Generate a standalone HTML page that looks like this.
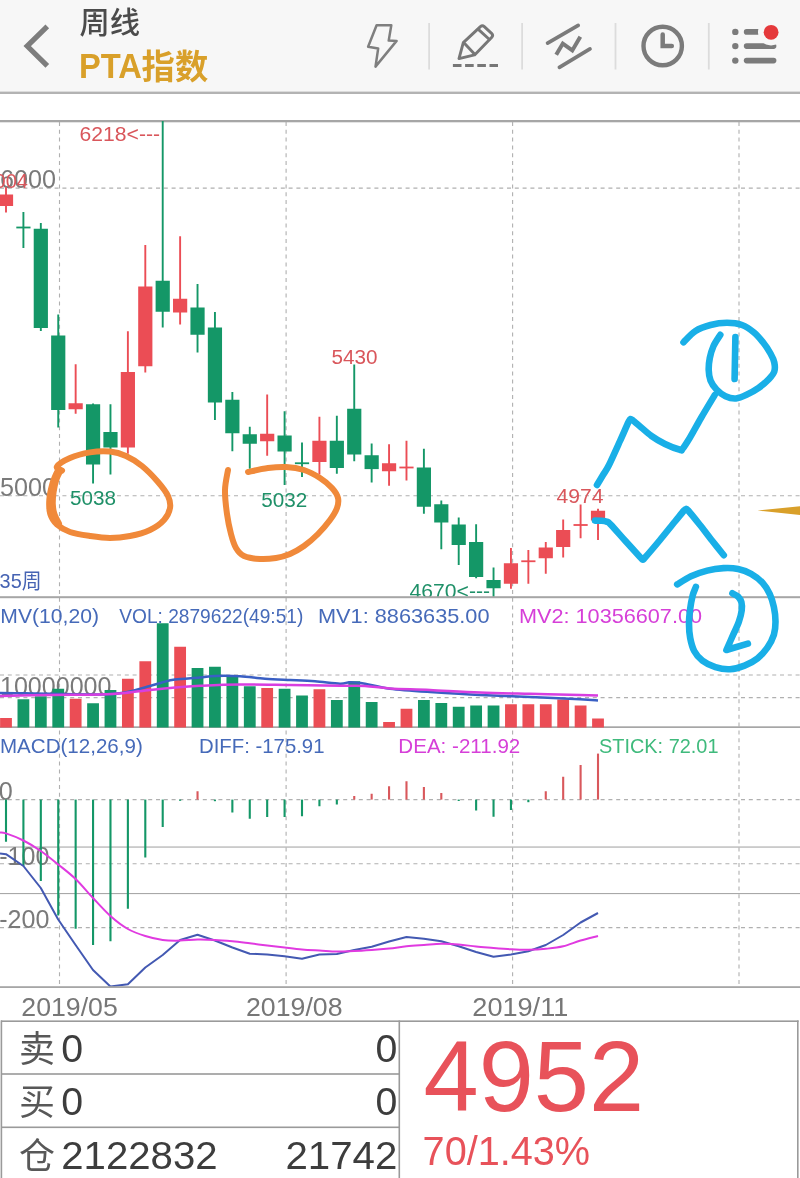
<!DOCTYPE html>
<html lang="zh-CN">
<head>
<meta charset="utf-8">
<title>PTA指数 周线</title>
<style>
html,body{margin:0;padding:0;background:#fff;}
body{width:800px;height:1178px;overflow:hidden;font-family:"Liberation Sans","Noto Sans CJK SC",sans-serif;}
svg text{white-space:pre;}
</style>
</head>
<body>
<svg width="800" height="1178" viewBox="0 0 800 1178" font-family='"Liberation Sans", "Noto Sans CJK SC", sans-serif' style="display:block;filter:blur(0.4px)">
<rect x="0" y="0" width="800" height="92" fill="#f7f7f7"/>
<rect x="0" y="91.6" width="800" height="2.4" fill="#b3b3b3"/>
<path d="M47.3 26.4L27.2 46.1L47.3 65.8" fill="none" stroke="#7d7d7d" stroke-width="5.2"/>
<text x="79.6" y="32.7" font-size="29.8" fill="#4b4b4b" textLength="60.5" lengthAdjust="spacingAndGlyphs" font-weight="500">周线</text>
<text y="78.2" font-size="34.5" font-weight="bold" fill="#d9a02a"><tspan x="79" textLength="63" lengthAdjust="spacingAndGlyphs">PTA</tspan><tspan x="141.6" y="79.2" font-size="33.6" textLength="66.6" lengthAdjust="spacingAndGlyphs">指数</tspan></text>
<path d="M376.6 25.3L391.3 25.3L388.7 40.6L396.6 40.9L375.5 66.6L378.2 48.4L368.1 46.7Z" fill="none" stroke="#7f7f7f" stroke-width="2.5" stroke-linejoin="round"/>
<rect x="428.2" y="23" width="1.8" height="46.5" fill="#dcdcdc"/>
<rect x="521.2" y="23" width="1.8" height="46.5" fill="#dcdcdc"/>
<rect x="614.6" y="23" width="1.8" height="46.5" fill="#dcdcdc"/>
<rect x="707.9" y="23" width="1.8" height="46.5" fill="#dcdcdc"/>
<g fill="none" stroke="#777" stroke-width="2.9" stroke-linejoin="round" stroke-linecap="round"><path d="M459 58.6L463.3 42.6L480.4 26.6Q482.4 25 484.3 26.7L491.8 33.6Q493.5 35.4 491.8 37.2L474.6 54.9Z"/><path d="M464.6 43.5L474 53.6M478.6 29.6L489.2 39.2"/></g>
<path d="M452.9 65.5H498" stroke="#777" stroke-width="3" stroke-dasharray="8.6 3.6" fill="none"/>
<g fill="none" stroke="#7b7b7b" stroke-width="3.7"><path d="M547.6 43.1L578.2 25.4M559.4 67.3L590 48.9" stroke-linecap="round"/><path d="M556.2 54.8L562.8 43.6L572.3 50.4L580.3 36.8" stroke-width="4"/></g>
<circle cx="662.7" cy="46" r="19.2" fill="none" stroke="#7b7b7b" stroke-width="4.4"/>
<path d="M662.7 34.6V46.1H671.8" fill="none" stroke="#7b7b7b" stroke-width="4.5" stroke-linecap="round"/>
<circle cx="735.3" cy="31.9" r="3.2" fill="#7b7b7b"/>
<path d="M746.6 31.9H773.6" stroke="#7b7b7b" stroke-width="5.6" stroke-linecap="round"/>
<circle cx="735.3" cy="46.1" r="3.2" fill="#7b7b7b"/>
<path d="M746.6 46.1H773.6" stroke="#7b7b7b" stroke-width="5.6" stroke-linecap="round"/>
<circle cx="735.3" cy="60.6" r="3.2" fill="#7b7b7b"/>
<path d="M746.6 60.6H773.6" stroke="#7b7b7b" stroke-width="5.6" stroke-linecap="round"/>
<circle cx="771.1" cy="32.3" r="13.1" fill="#f7f7f7"/>
<circle cx="771.1" cy="32.3" r="7.4" fill="#e5393b"/>
<rect x="0" y="120" width="800" height="2.3" fill="#a6a6a6"/>
<g stroke="#b0b0b0" stroke-width="1.1" stroke-dasharray="4 3.8" fill="none">
<path d="M59.5 122V986"/>
<path d="M286.1 122V986"/>
<path d="M512.6 122V986"/>
<path d="M739.0 122V986"/>
<path d="M0 188.1H800"/>
<path d="M0 495.7H800"/>
<path d="M0 675.0H800"/>
<path d="M0 697.6H800"/>
<path d="M0 799.6H800"/>
<path d="M0 863.8H800"/>
<path d="M0 927.6H800"/>
</g>
<rect x="0" y="846.5" width="800" height="1.1" fill="#a8a8a8"/>
<rect x="0" y="893.0" width="800" height="1.1" fill="#a8a8a8"/>
<text x="0.0" y="188.3" font-size="25.2" fill="#7a7a7a" textLength="56.0" lengthAdjust="spacingAndGlyphs">6000</text>
<text x="0.0" y="496.0" font-size="25.2" fill="#7a7a7a" textLength="56.0" lengthAdjust="spacingAndGlyphs">5000</text>
<rect x="5.05" y="187.20" width="1.9" height="25.30" fill="#eb4d55"/>
<rect x="-1.10" y="194.50" width="14.20" height="11.50" fill="#eb4d55"/>
<rect x="22.46" y="212.00" width="1.9" height="36.00" fill="#149767"/>
<rect x="16.31" y="226.60" width="14.20" height="1.8" fill="#149767"/>
<rect x="39.87" y="223.00" width="1.9" height="108.00" fill="#149767"/>
<rect x="33.72" y="228.75" width="14.20" height="99.25" fill="#149767"/>
<rect x="57.29" y="314.50" width="1.9" height="113.00" fill="#149767"/>
<rect x="51.14" y="335.50" width="14.20" height="74.50" fill="#149767"/>
<rect x="74.70" y="364.25" width="1.9" height="49.50" fill="#eb4d55"/>
<rect x="68.55" y="403.25" width="14.20" height="6.00" fill="#eb4d55"/>
<rect x="92.11" y="403.50" width="1.9" height="80.00" fill="#149767"/>
<rect x="85.96" y="404.25" width="14.20" height="60.25" fill="#149767"/>
<rect x="109.52" y="404.25" width="1.9" height="70.25" fill="#149767"/>
<rect x="103.37" y="432.00" width="14.20" height="15.50" fill="#149767"/>
<rect x="126.93" y="331.25" width="1.9" height="122.50" fill="#eb4d55"/>
<rect x="120.78" y="372.00" width="14.20" height="75.50" fill="#eb4d55"/>
<rect x="144.35" y="245.00" width="1.9" height="127.50" fill="#eb4d55"/>
<rect x="138.20" y="286.50" width="14.20" height="79.75" fill="#eb4d55"/>
<rect x="161.76" y="121.00" width="1.9" height="206.50" fill="#149767"/>
<rect x="155.61" y="280.75" width="14.20" height="31.00" fill="#149767"/>
<rect x="179.17" y="236.25" width="1.9" height="88.25" fill="#eb4d55"/>
<rect x="173.02" y="298.75" width="14.20" height="13.75" fill="#eb4d55"/>
<rect x="196.58" y="284.00" width="1.9" height="68.50" fill="#149767"/>
<rect x="190.43" y="307.50" width="14.20" height="27.25" fill="#149767"/>
<rect x="213.99" y="312.00" width="1.9" height="108.00" fill="#149767"/>
<rect x="207.84" y="327.50" width="14.20" height="75.00" fill="#149767"/>
<rect x="231.41" y="392.00" width="1.9" height="59.25" fill="#149767"/>
<rect x="225.26" y="399.75" width="14.20" height="33.50" fill="#149767"/>
<rect x="248.82" y="426.75" width="1.9" height="42.00" fill="#149767"/>
<rect x="242.67" y="434.25" width="14.20" height="9.50" fill="#149767"/>
<rect x="266.23" y="394.50" width="1.9" height="61.25" fill="#eb4d55"/>
<rect x="260.08" y="433.75" width="14.20" height="7.50" fill="#eb4d55"/>
<rect x="283.64" y="411.25" width="1.9" height="73.75" fill="#149767"/>
<rect x="277.49" y="435.50" width="14.20" height="16.00" fill="#149767"/>
<rect x="301.05" y="442.50" width="1.9" height="34.50" fill="#149767"/>
<rect x="294.90" y="462.35" width="14.20" height="1.8" fill="#149767"/>
<rect x="318.47" y="416.75" width="1.9" height="57.75" fill="#eb4d55"/>
<rect x="312.32" y="440.75" width="14.20" height="21.25" fill="#eb4d55"/>
<rect x="335.88" y="415.75" width="1.9" height="58.00" fill="#149767"/>
<rect x="329.73" y="440.75" width="14.20" height="27.25" fill="#149767"/>
<rect x="353.29" y="364.50" width="1.9" height="96.75" fill="#149767"/>
<rect x="347.14" y="408.75" width="14.20" height="45.75" fill="#149767"/>
<rect x="370.70" y="443.50" width="1.9" height="39.00" fill="#149767"/>
<rect x="364.55" y="455.25" width="14.20" height="13.85" fill="#149767"/>
<rect x="388.11" y="444.25" width="1.9" height="41.50" fill="#eb4d55"/>
<rect x="381.96" y="463.25" width="14.20" height="8.00" fill="#eb4d55"/>
<rect x="405.53" y="440.75" width="1.9" height="39.75" fill="#eb4d55"/>
<rect x="399.38" y="466.60" width="14.20" height="1.8" fill="#eb4d55"/>
<rect x="422.94" y="448.75" width="1.9" height="65.00" fill="#149767"/>
<rect x="416.79" y="467.50" width="14.20" height="39.25" fill="#149767"/>
<rect x="440.35" y="500.50" width="1.9" height="48.75" fill="#149767"/>
<rect x="434.20" y="504.25" width="14.20" height="18.25" fill="#149767"/>
<rect x="457.76" y="517.50" width="1.9" height="47.50" fill="#149767"/>
<rect x="451.61" y="524.50" width="14.20" height="20.50" fill="#149767"/>
<rect x="475.17" y="524.25" width="1.9" height="54.00" fill="#149767"/>
<rect x="469.02" y="542.00" width="14.20" height="35.00" fill="#149767"/>
<rect x="492.59" y="567.50" width="1.9" height="29.50" fill="#149767"/>
<rect x="486.44" y="580.00" width="14.20" height="8.25" fill="#149767"/>
<rect x="510.00" y="548.00" width="1.9" height="40.75" fill="#eb4d55"/>
<rect x="503.85" y="563.25" width="14.20" height="20.50" fill="#eb4d55"/>
<rect x="527.41" y="550.00" width="1.9" height="33.75" fill="#eb4d55"/>
<rect x="521.26" y="560.35" width="14.20" height="1.8" fill="#eb4d55"/>
<rect x="544.82" y="542.00" width="1.9" height="31.75" fill="#eb4d55"/>
<rect x="538.67" y="547.50" width="14.20" height="10.75" fill="#eb4d55"/>
<rect x="562.23" y="519.50" width="1.9" height="38.00" fill="#eb4d55"/>
<rect x="556.08" y="530.00" width="14.20" height="17.00" fill="#eb4d55"/>
<rect x="579.65" y="504.50" width="1.9" height="33.75" fill="#eb4d55"/>
<rect x="573.50" y="524.10" width="14.20" height="1.8" fill="#eb4d55"/>
<rect x="597.06" y="508.75" width="1.9" height="31.25" fill="#eb4d55"/>
<rect x="590.91" y="510.75" width="14.20" height="9.75" fill="#eb4d55"/>
<text x="-16.6" y="187.8" font-size="20" fill="#d9565b" textLength="44.5" lengthAdjust="spacingAndGlyphs">6004</text>
<text x="79.5" y="141.2" font-size="19.5" fill="#d9565b" textLength="80.5" lengthAdjust="spacingAndGlyphs">6218&lt;---</text>
<text x="331.4" y="363.8" font-size="19.5" fill="#d9565b" textLength="46.0" lengthAdjust="spacingAndGlyphs">5430</text>
<text x="556.5" y="503.2" font-size="19.5" fill="#d9565b" textLength="47.0" lengthAdjust="spacingAndGlyphs">4974</text>
<text x="70.0" y="504.6" font-size="19.5" fill="#1f9068" textLength="46.0" lengthAdjust="spacingAndGlyphs">5038</text>
<text x="261.2" y="507.0" font-size="19.5" fill="#1f9068" textLength="46.0" lengthAdjust="spacingAndGlyphs">5032</text>
<text x="409.5" y="597.6" font-size="19.5" fill="#1f9068" textLength="80.5" lengthAdjust="spacingAndGlyphs">4670&lt;---</text>
<text x="-0.4" y="588.4" font-size="21" fill="#4663b3" textLength="42.0" lengthAdjust="spacingAndGlyphs">35周</text>
<rect x="0" y="596.2" width="800" height="2" fill="#a6a6a6"/>
<text x="0.3" y="622.6" font-size="21" fill="#466ab9" textLength="98.7" lengthAdjust="spacingAndGlyphs">MV(10,20)</text>
<text x="119.3" y="622.6" font-size="21" fill="#466ab9" textLength="184.0" lengthAdjust="spacingAndGlyphs">VOL: 2879622(49:51)</text>
<text x="318.0" y="622.6" font-size="21" fill="#466ab9" textLength="171.5" lengthAdjust="spacingAndGlyphs">MV1: 8863635.00</text>
<text x="519.0" y="622.6" font-size="21" fill="#d63fd8" textLength="183.0" lengthAdjust="spacingAndGlyphs">MV2: 10356607.00</text>
<text x="0.0" y="695.2" font-size="25.2" fill="#7a7a7a" textLength="111.5" lengthAdjust="spacingAndGlyphs">10000000</text>
<rect x="0" y="726.3" width="800" height="1.7" fill="#a6a6a6"/>
<rect x="0.10" y="718.00" width="11.80" height="9.50" fill="#eb4d55"/>
<rect x="17.51" y="699.25" width="11.80" height="28.25" fill="#149767"/>
<rect x="34.92" y="696.25" width="11.80" height="31.25" fill="#149767"/>
<rect x="52.34" y="688.75" width="11.80" height="38.75" fill="#149767"/>
<rect x="69.75" y="698.75" width="11.80" height="28.75" fill="#eb4d55"/>
<rect x="87.16" y="703.25" width="11.80" height="24.25" fill="#149767"/>
<rect x="104.57" y="690.00" width="11.80" height="37.50" fill="#149767"/>
<rect x="121.98" y="678.75" width="11.80" height="48.75" fill="#eb4d55"/>
<rect x="139.40" y="661.25" width="11.80" height="66.25" fill="#eb4d55"/>
<rect x="156.81" y="623.25" width="11.80" height="104.25" fill="#149767"/>
<rect x="174.22" y="646.75" width="11.80" height="80.75" fill="#eb4d55"/>
<rect x="191.63" y="668.00" width="11.80" height="59.50" fill="#149767"/>
<rect x="209.04" y="666.75" width="11.80" height="60.75" fill="#149767"/>
<rect x="226.46" y="676.25" width="11.80" height="51.25" fill="#149767"/>
<rect x="243.87" y="686.25" width="11.80" height="41.25" fill="#149767"/>
<rect x="261.28" y="688.00" width="11.80" height="39.50" fill="#eb4d55"/>
<rect x="278.69" y="688.75" width="11.80" height="38.75" fill="#149767"/>
<rect x="296.10" y="695.50" width="11.80" height="32.00" fill="#149767"/>
<rect x="313.52" y="689.25" width="11.80" height="38.25" fill="#eb4d55"/>
<rect x="330.93" y="700.00" width="11.80" height="27.50" fill="#149767"/>
<rect x="348.34" y="681.25" width="11.80" height="46.25" fill="#149767"/>
<rect x="365.75" y="702.00" width="11.80" height="25.50" fill="#149767"/>
<rect x="383.16" y="722.00" width="11.80" height="5.50" fill="#eb4d55"/>
<rect x="400.58" y="708.75" width="11.80" height="18.75" fill="#eb4d55"/>
<rect x="417.99" y="700.00" width="11.80" height="27.50" fill="#149767"/>
<rect x="435.40" y="703.00" width="11.80" height="24.50" fill="#149767"/>
<rect x="452.81" y="706.75" width="11.80" height="20.75" fill="#149767"/>
<rect x="470.22" y="705.50" width="11.80" height="22.00" fill="#149767"/>
<rect x="487.64" y="705.50" width="11.80" height="22.00" fill="#149767"/>
<rect x="505.05" y="704.25" width="11.80" height="23.25" fill="#eb4d55"/>
<rect x="522.46" y="704.25" width="11.80" height="23.25" fill="#eb4d55"/>
<rect x="539.87" y="704.25" width="11.80" height="23.25" fill="#eb4d55"/>
<rect x="557.28" y="699.50" width="11.80" height="28.00" fill="#eb4d55"/>
<rect x="574.70" y="705.50" width="11.80" height="22.00" fill="#eb4d55"/>
<rect x="592.11" y="718.50" width="11.80" height="9.00" fill="#eb4d55"/>
<path d="M0.0 693.0C4.2 693.0 16.7 693.2 25.0 693.3C33.3 693.4 37.5 693.6 50.0 693.8C62.5 694.0 87.5 694.7 100.0 694.5C112.5 694.3 116.7 693.9 125.0 692.5C133.3 691.1 143.8 687.7 150.0 686.0C156.2 684.3 157.8 683.6 162.0 682.5C166.2 681.4 168.7 680.3 175.0 679.5C181.3 678.7 193.3 678.1 200.0 677.5C206.7 676.9 208.3 676.2 215.0 676.0C221.7 675.8 231.7 675.8 240.0 676.3C248.3 676.8 256.7 678.1 265.0 678.7C273.3 679.3 281.7 679.6 290.0 680.0C298.3 680.4 306.7 680.7 315.0 681.3C323.3 681.9 334.2 683.6 340.0 683.7C345.8 683.9 345.8 682.2 350.0 682.2C354.2 682.2 358.3 682.6 365.0 683.7C371.7 684.8 379.2 687.3 390.0 688.7C400.8 690.1 415.0 691.0 430.0 692.0C445.0 693.0 463.3 694.2 480.0 695.0C496.7 695.8 513.3 696.3 530.0 697.0C546.7 697.7 568.7 698.6 580.0 699.2C591.3 699.8 595.0 700.2 598.0 700.4" fill="none" stroke="#3a5fc4" stroke-width="2.5"/>
<path d="M0.0 696.0C8.3 695.8 33.3 695.2 50.0 695.0C66.7 694.8 87.5 694.8 100.0 694.5C112.5 694.2 116.7 693.8 125.0 693.0C133.3 692.2 141.7 690.9 150.0 690.0C158.3 689.1 166.7 688.2 175.0 687.5C183.3 686.8 189.2 686.3 200.0 685.8C210.8 685.3 225.0 684.6 240.0 684.5C255.0 684.4 273.3 684.8 290.0 685.0C306.7 685.2 327.5 685.6 340.0 685.8C352.5 686.0 356.7 685.5 365.0 686.0C373.3 686.5 379.2 687.8 390.0 688.5C400.8 689.2 415.0 689.3 430.0 690.0C445.0 690.7 463.3 691.9 480.0 692.5C496.7 693.1 513.3 693.4 530.0 693.8C546.7 694.2 568.7 694.7 580.0 695.0C591.3 695.3 595.0 695.4 598.0 695.5" fill="none" stroke="#d83ee0" stroke-width="2.5"/>
<text x="0.0" y="753.3" font-size="21" fill="#466ab9" textLength="142.8" lengthAdjust="spacingAndGlyphs">MACD(12,26,9)</text>
<text x="199.0" y="753.3" font-size="21" fill="#466ab9" textLength="125.5" lengthAdjust="spacingAndGlyphs">DIFF: -175.91</text>
<text x="398.3" y="753.3" font-size="21" fill="#d63fd8" textLength="122.0" lengthAdjust="spacingAndGlyphs">DEA: -211.92</text>
<text x="599.0" y="753.3" font-size="21" fill="#3fba7c" textLength="119.5" lengthAdjust="spacingAndGlyphs">STICK: 72.01</text>
<text x="-1.2" y="800.2" font-size="25.2" fill="#7a7a7a">0</text>
<text x="-0.8" y="864.6" font-size="25.2" fill="#7a7a7a" textLength="50.2" lengthAdjust="spacingAndGlyphs">-100</text>
<text x="-0.8" y="928.2" font-size="25.2" fill="#7a7a7a" textLength="50.2" lengthAdjust="spacingAndGlyphs">-200</text>
<rect x="4.95" y="799.60" width="2.1" height="42.15" fill="#149767"/>
<rect x="22.36" y="799.60" width="2.1" height="66.40" fill="#149767"/>
<rect x="39.77" y="799.60" width="2.1" height="81.40" fill="#149767"/>
<rect x="57.19" y="799.60" width="2.1" height="115.90" fill="#149767"/>
<rect x="74.60" y="799.60" width="2.1" height="129.15" fill="#149767"/>
<rect x="92.01" y="799.60" width="2.1" height="145.40" fill="#149767"/>
<rect x="109.42" y="799.60" width="2.1" height="141.65" fill="#149767"/>
<rect x="126.83" y="799.60" width="2.1" height="109.15" fill="#149767"/>
<rect x="144.25" y="799.60" width="2.1" height="57.90" fill="#149767"/>
<rect x="161.66" y="799.60" width="2.1" height="27.40" fill="#149767"/>
<rect x="179.07" y="799.60" width="2.1" height="1.20" fill="#149767"/>
<rect x="196.48" y="791.25" width="2.1" height="8.35" fill="#d9585c"/>
<rect x="213.89" y="799.60" width="2.1" height="1.60" fill="#149767"/>
<rect x="231.31" y="799.60" width="2.1" height="12.90" fill="#149767"/>
<rect x="248.72" y="799.60" width="2.1" height="19.15" fill="#149767"/>
<rect x="266.13" y="799.60" width="2.1" height="17.40" fill="#149767"/>
<rect x="283.54" y="799.60" width="2.1" height="17.40" fill="#149767"/>
<rect x="300.95" y="799.60" width="2.1" height="16.65" fill="#149767"/>
<rect x="318.37" y="799.60" width="2.1" height="6.65" fill="#149767"/>
<rect x="335.78" y="799.60" width="2.1" height="4.90" fill="#149767"/>
<rect x="353.19" y="796.00" width="2.1" height="3.60" fill="#d9585c"/>
<rect x="370.60" y="793.75" width="2.1" height="5.85" fill="#d9585c"/>
<rect x="388.01" y="786.25" width="2.1" height="13.35" fill="#d9585c"/>
<rect x="405.43" y="781.25" width="2.1" height="18.35" fill="#d9585c"/>
<rect x="422.84" y="787.00" width="2.1" height="12.60" fill="#d9585c"/>
<rect x="440.25" y="793.00" width="2.1" height="6.60" fill="#d9585c"/>
<rect x="457.66" y="799.60" width="2.1" height="1.40" fill="#149767"/>
<rect x="475.07" y="799.60" width="2.1" height="10.90" fill="#149767"/>
<rect x="492.49" y="799.60" width="2.1" height="17.15" fill="#149767"/>
<rect x="509.90" y="799.60" width="2.1" height="10.40" fill="#149767"/>
<rect x="527.31" y="799.60" width="2.1" height="2.60" fill="#149767"/>
<rect x="544.72" y="791.25" width="2.1" height="8.35" fill="#d9585c"/>
<rect x="562.13" y="776.75" width="2.1" height="22.85" fill="#d9585c"/>
<rect x="579.55" y="765.00" width="2.1" height="34.60" fill="#d9585c"/>
<rect x="596.96" y="753.60" width="2.1" height="46.00" fill="#d9585c"/>
<path d="M0.0 853.5L6.0 854.2L23.4 866.0L40.8 888.0L58.2 919.5L75.6 945.0L93.0 970.0L110.4 986.5L127.9 984.3L145.3 967.5L162.7 955.0L180.1 940.0L197.5 934.8L214.9 940.5L232.4 947.5L249.8 953.7L267.2 954.5L284.6 956.3L302.0 958.7L319.4 954.5L336.8 954.0L354.2 950.0L371.7 946.7L389.1 941.5L406.5 937.0L423.9 938.7L441.3 941.3L458.7 946.3L476.1 952.0L493.5 956.7L511.0 954.5L528.4 951.3L545.8 945.0L563.2 935.0L580.6 922.5L598.0 913.0" fill="none" stroke="#4359b2" stroke-width="2" stroke-linejoin="round"/>
<path d="M0.0 832.5C1.0 832.6 2.1 832.1 6.0 833.4C9.9 834.7 17.6 837.6 23.4 840.5C29.2 843.4 35.0 847.0 40.8 851.0C46.6 855.0 52.4 859.8 58.2 864.5C64.0 869.2 69.8 873.4 75.6 879.0C81.4 884.6 87.2 891.8 93.0 898.0C98.8 904.2 104.6 910.8 110.4 916.0C116.2 921.2 122.1 925.7 127.9 929.0C133.7 932.3 139.5 934.2 145.3 936.0C151.1 937.8 156.9 939.2 162.7 940.0C168.5 940.8 174.3 940.7 180.1 940.6C185.9 940.5 191.7 939.7 197.5 939.6C203.3 939.5 209.1 939.7 214.9 940.0C220.7 940.3 226.6 940.8 232.4 941.3C238.2 941.8 244.0 942.6 249.8 943.3C255.6 944.0 261.4 944.8 267.2 945.5C273.0 946.2 278.8 946.8 284.6 947.5C290.4 948.2 296.2 949.0 302.0 949.5C307.8 950.0 313.6 950.2 319.4 950.5C325.2 950.8 331.0 951.4 336.8 951.5C342.6 951.6 348.4 951.2 354.2 951.0C360.0 950.8 365.9 950.4 371.7 950.0C377.5 949.6 383.3 949.1 389.1 948.5C394.9 947.9 400.7 946.9 406.5 946.3C412.3 945.7 418.1 945.4 423.9 945.0C429.7 944.6 435.5 943.9 441.3 943.8C447.1 943.7 452.9 944.0 458.7 944.5C464.5 945.0 470.3 945.9 476.1 946.5C481.9 947.1 487.7 947.5 493.5 948.0C499.3 948.5 505.2 949.0 511.0 949.3C516.8 949.6 522.6 949.9 528.4 949.8C534.2 949.7 540.0 949.4 545.8 948.8C551.6 948.2 557.4 947.7 563.2 946.3C569.0 944.9 574.8 942.2 580.6 940.5C586.4 938.8 595.1 936.8 598.0 936.0" fill="none" stroke="#e03ae0" stroke-width="2"/>
<rect x="0" y="986.2" width="800" height="1.8" fill="#a6a6a6"/>
<text x="21.3" y="1015.6" font-size="26" fill="#777" textLength="96.5" lengthAdjust="spacingAndGlyphs">2019/05</text>
<text x="246.0" y="1015.6" font-size="26" fill="#777" textLength="96.5" lengthAdjust="spacingAndGlyphs">2019/08</text>
<text x="472.3" y="1015.6" font-size="26" fill="#777" textLength="96.0" lengthAdjust="spacingAndGlyphs">2019/11</text>
<path d="M757.5 510.6L800 506.2V515Z" fill="#d9a02a"/>
<g fill="none" stroke="#f0893a" stroke-width="6" stroke-linecap="round" stroke-linejoin="round">
<path d="M62.0 470.5C61.2 469.8 55.7 468.6 57.0 466.5C58.3 464.4 64.5 460.4 70.0 458.0C75.5 455.6 83.3 453.5 90.0 452.4C96.7 451.3 104.0 451.0 110.0 451.6C116.0 452.2 120.7 453.6 126.0 456.0C131.3 458.4 136.7 461.7 142.0 466.0C147.3 470.3 153.7 477.0 158.0 482.0C162.3 487.0 166.0 491.7 168.0 496.0C170.0 500.3 170.7 504.0 170.0 508.0C169.3 512.0 167.3 516.3 164.0 520.0C160.7 523.7 155.7 527.3 150.0 530.0C144.3 532.7 136.7 534.7 130.0 536.0C123.3 537.3 116.7 538.0 110.0 538.0C103.3 538.0 96.7 537.0 90.0 536.0C83.3 535.0 75.5 533.9 70.0 532.0C64.5 530.1 60.3 527.5 57.0 524.5C53.7 521.5 51.6 518.1 50.3 514.0C49.0 509.9 49.0 505.0 49.3 500.0C49.6 495.0 51.0 488.7 52.3 484.0C53.6 479.3 56.2 474.0 57.0 472.0"/>
<path d="M60.0 471.5C59.4 472.9 57.3 476.6 56.2 480.0C55.1 483.4 54.2 488.0 53.6 492.0C53.0 496.0 52.7 500.3 52.8 504.0C52.9 507.7 53.4 510.8 54.4 514.0C55.4 517.2 58.2 521.9 59.0 523.5"/>
<path d="M248.0 472.0C251.3 471.3 261.7 468.8 268.0 468.0C274.3 467.2 280.0 466.7 286.0 467.0C292.0 467.3 298.3 468.2 304.0 470.0C309.7 471.8 315.3 475.0 320.0 478.0C324.7 481.0 329.0 484.7 332.0 488.0C335.0 491.3 337.2 494.7 338.0 498.0C338.8 501.3 338.3 504.3 337.0 508.0C335.7 511.7 333.2 515.7 330.0 520.0C326.8 524.3 322.3 529.7 318.0 534.0C313.7 538.3 308.7 542.7 304.0 546.0C299.3 549.3 294.7 552.0 290.0 554.0C285.3 556.0 281.0 557.2 276.0 558.0C271.0 558.8 265.3 559.3 260.0 559.0C254.7 558.7 248.0 557.8 244.0 556.0C240.0 554.2 238.2 551.7 236.0 548.0C233.8 544.3 232.5 539.7 231.0 534.0C229.5 528.3 228.0 521.3 227.0 514.0C226.0 506.7 224.8 497.3 225.0 490.0C225.2 482.7 227.5 473.3 228.0 470.0"/>
</g>
<g fill="none" stroke="#19afe7" stroke-width="6.6" stroke-linecap="round" stroke-linejoin="round">
<path d="M597.0 485.0C597.9 483.5 601.2 478.0 603.0 475.0C604.8 472.0 606.5 470.1 609.0 465.0C611.5 459.9 617.1 447.4 620.0 441.0C622.9 434.6 626.9 425.3 628.5 422.0C630.1 418.7 629.8 419.2 630.5 419.0C631.2 418.8 631.7 419.5 633.0 420.5C634.3 421.5 636.2 423.2 639.0 425.5C641.8 427.8 647.6 433.2 651.5 436.0C655.4 438.8 660.7 441.9 665.0 444.0C669.3 446.1 677.4 449.1 680.0 449.8C682.6 450.6 681.0 450.8 682.5 449.0C684.0 447.2 687.2 442.1 690.0 437.5C692.8 432.9 697.3 424.4 701.0 418.0C704.7 411.6 712.7 398.4 714.8 394.9"/>
<path d="M683.5 342.3C685.5 340.4 691.0 333.9 695.5 331.0C700.0 328.1 705.2 326.4 710.5 325.0C715.8 323.6 721.8 322.8 727.0 322.8C732.2 322.8 737.5 323.4 742.0 325.0C746.5 326.6 750.5 329.6 754.0 332.5C757.5 335.4 760.2 338.8 763.0 342.3C765.8 345.8 768.6 350.1 770.5 353.5C772.4 356.9 773.7 359.5 774.3 362.5C774.9 365.5 775.2 368.8 774.3 371.5C773.4 374.2 771.6 376.2 769.0 379.0C766.4 381.8 762.2 385.4 758.5 388.0C754.8 390.6 750.2 393.1 746.5 394.8C742.8 396.6 739.5 398.2 736.0 398.5C732.5 398.8 728.8 397.8 725.5 396.3C722.2 394.8 719.0 392.1 716.5 389.5C714.0 386.9 711.8 383.8 710.5 380.5C709.2 377.2 708.8 373.8 708.7 370.0C708.6 366.2 709.0 362.0 709.8 358.0C710.6 354.0 711.8 349.9 713.5 346.0C715.2 342.1 719.2 336.7 720.3 334.8"/>
<path d="M735.4 337L734.6 379"/>
<path d="M595.0 520.6C595.9 520.6 599.3 520.6 601.0 520.7C602.7 520.9 605.1 521.1 606.5 521.6C607.9 522.1 607.7 521.5 610.5 524.3C613.3 527.1 620.6 535.6 625.0 540.5C629.4 545.4 637.3 554.1 640.0 557.0C642.7 559.9 642.1 559.6 642.9 559.6C643.7 559.6 642.9 559.9 645.5 557.0C648.1 554.1 655.6 545.3 660.0 540.0C664.4 534.7 671.4 525.9 675.0 521.5C678.6 517.1 682.4 512.4 684.0 510.5C685.6 508.6 685.4 509.0 686.0 509.0C686.6 509.0 686.1 508.1 688.2 510.5C690.3 512.9 696.4 520.5 700.0 525.0C703.6 529.5 708.4 536.0 712.0 540.5C715.6 545.0 722.0 553.0 723.8 555.2"/>
<path d="M677.2 584.4C679.5 583.0 686.0 578.5 691.0 576.2C696.0 573.9 701.8 572.0 707.2 570.6C712.6 569.2 718.4 568.4 723.5 568.1C728.6 567.8 733.5 568.0 738.1 568.9C742.7 569.8 747.0 571.5 751.1 573.8C755.2 576.1 759.4 579.3 762.5 582.7C765.6 586.1 767.9 590.0 769.8 594.1C771.7 598.2 772.9 602.5 773.9 607.1C774.9 611.7 775.5 617.1 775.5 621.7C775.5 626.3 775.2 630.4 773.9 634.7C772.5 639.0 770.1 643.8 767.4 647.7C764.7 651.6 761.4 655.3 757.6 658.3C753.8 661.3 749.2 663.8 744.6 665.6C740.0 667.4 734.9 668.9 730.0 669.2C725.1 669.5 720.0 668.6 715.4 667.2C710.8 665.8 705.9 663.4 702.4 660.7C698.9 658.0 696.2 654.8 694.2 651.0C692.2 647.2 691.1 642.6 690.2 638.0C689.3 633.4 689.0 628.3 689.0 623.4C689.0 618.5 689.6 613.3 690.2 608.7C690.8 604.1 691.7 599.4 692.6 595.7C693.5 592.1 695.4 588.3 695.9 586.8"/>
<path d="M732.4 593.3C733.4 593.8 736.6 595.1 738.1 596.6C739.6 598.1 740.8 599.9 741.4 602.2C742.0 604.5 742.1 607.1 741.7 610.4C741.3 613.6 740.3 617.7 738.9 621.7C737.5 625.8 735.3 630.0 733.2 634.7C731.1 639.4 727.5 647.5 726.4 650.0L747.9 643.7"/>
</g>
<g fill="#9a9a9a">
<rect x="1" y="1020.4" width="797.6" height="1.6"/>
<rect x="0.6" y="1020.4" width="1.6" height="158"/>
<rect x="797" y="1020.4" width="1.6" height="158"/>
<rect x="398.5" y="1020.4" width="1.6" height="158"/>
<rect x="1" y="1073.2" width="398" height="1.6"/>
<rect x="1" y="1126.5" width="398" height="1.6"/>
</g>
<text x="19.0" y="1061.8" font-size="36" fill="#585858">卖</text>
<text x="61.2" y="1061.8" font-size="39.3" fill="#3d3d3d">0</text>
<text x="397.4" y="1061.8" font-size="39.3" fill="#3d3d3d" text-anchor="end">0</text>
<text x="19.0" y="1115.3" font-size="36" fill="#585858">买</text>
<text x="61.2" y="1115.3" font-size="39.3" fill="#3d3d3d">0</text>
<text x="397.4" y="1115.3" font-size="39.3" fill="#3d3d3d" text-anchor="end">0</text>
<text x="19.0" y="1168.6" font-size="36" fill="#585858">仓</text>
<text x="61.2" y="1168.6" font-size="39.3" fill="#3d3d3d" textLength="156.5" lengthAdjust="spacingAndGlyphs">2122832</text>
<text x="285.4" y="1168.6" font-size="39.3" fill="#3d3d3d" textLength="112.0" lengthAdjust="spacingAndGlyphs">21742</text>
<text x="423.6" y="1110.8" font-size="100.5" fill="#e8525a" textLength="220.5" lengthAdjust="spacingAndGlyphs">4952</text>
<text x="422.6" y="1165.4" font-size="40" fill="#e8525a" textLength="167.5" lengthAdjust="spacingAndGlyphs">70/1.43%</text>
</svg>
</body>
</html>
